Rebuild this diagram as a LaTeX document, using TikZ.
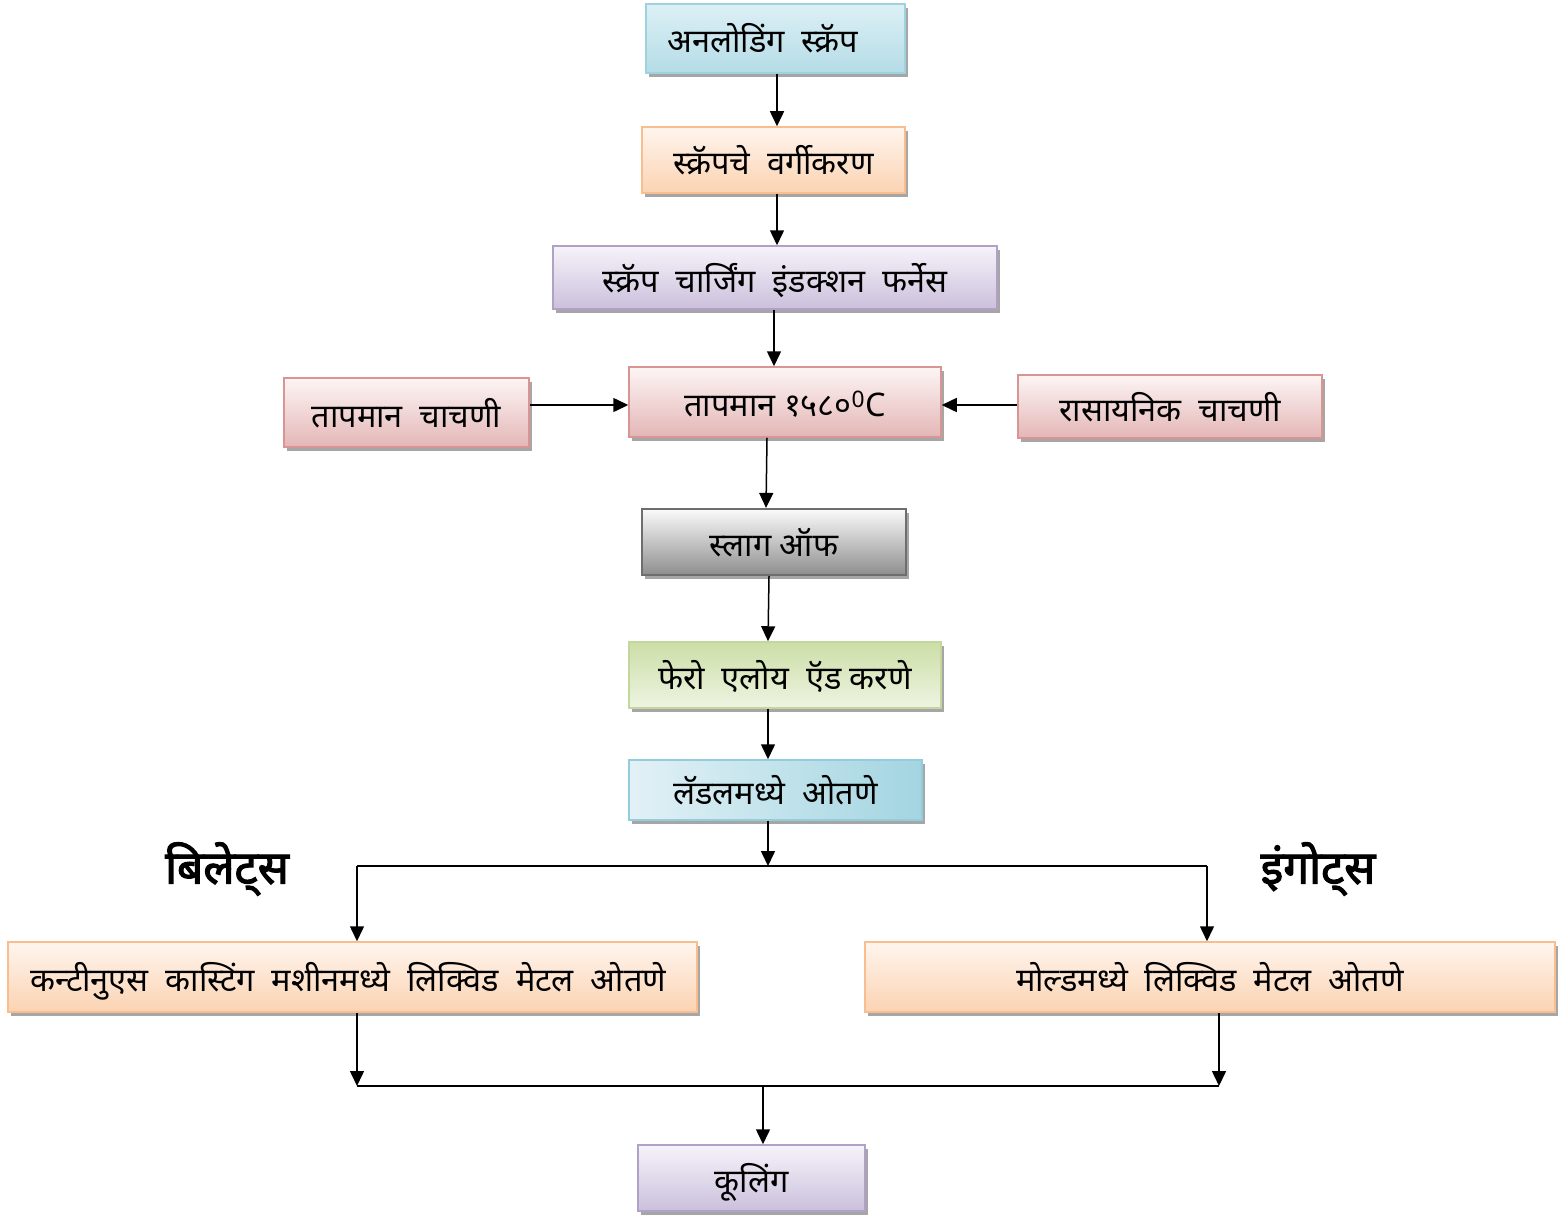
\documentclass[tikz,border=0pt]{standalone}
\usepackage{fontspec}
\setmainfont[Script=Devanagari]{Noto Sans}
\newfontfamily\boldeva[Script=Devanagari,FakeBold=2.5]{Noto Sans}
\usetikzlibrary{arrows.meta,shadows}
\definecolor{bluB}{HTML}{9FD2DF}
\definecolor{bluT}{HTML}{DCF0F5}
\definecolor{bluD}{HTML}{B5DCE7}
\definecolor{orB}{HTML}{F9BE8F}
\definecolor{orT}{HTML}{FFF5EE}
\definecolor{orD}{HTML}{FBD3B2}
\definecolor{puB}{HTML}{B2A1C7}
\definecolor{puT}{HTML}{F6F3FA}
\definecolor{puD}{HTML}{CBC0DC}
\definecolor{piB}{HTML}{D99594}
\definecolor{piT}{HTML}{FDF5F5}
\definecolor{piD}{HTML}{E4B6B6}
\definecolor{grB}{HTML}{6E6E6E}
\definecolor{grT}{HTML}{FAFAFA}
\definecolor{grD}{HTML}{8E8E8E}
\definecolor{gnB}{HTML}{C3D69B}
\definecolor{gnT}{HTML}{CCDEA6}
\definecolor{gnD}{HTML}{EEF4E2}
\definecolor{lbB}{HTML}{93CDDD}
\definecolor{lbL}{HTML}{E2F1F6}
\definecolor{lbR}{HTML}{A3D5E1}
\definecolor{shadowgray}{HTML}{A6A6A6}
\begin{document}
\begin{tikzpicture}[x=1pt,y=-1pt,
  box/.style={draw, line width=1.5pt, inner sep=0pt, text height=34pt, text depth=5pt,
    font=\fontsize{32.5}{38}\selectfont,
    drop shadow={shadow xshift=3pt,shadow yshift=-4pt,fill=shadowgray,opacity=1}},
  arr/.style={-{Triangle[length=15pt,width=14pt]}, line width=1.5pt},
  ln/.style={line width=1.5pt},
  lbl/.style={font=\fontsize{46}{52}\selectfont\boldeva, inner sep=0pt}]
\useasboundingbox (0,0) rectangle (1563,1220);

\node[box, draw=bluB, top color=bluT, bottom color=bluD, minimum width=259pt, minimum height=69pt] (b1) at (775.5,38.5) {अनलोडिंग \ स्क्रॅप\hspace*{26pt}};
\node[box, draw=orB, top color=orT, bottom color=orD, minimum width=263pt, minimum height=66pt] (b2) at (773.5,160) {स्क्रॅपचे \ वर्गीकरण};
\node[box, draw=puB, top color=puT, bottom color=puD, minimum width=444pt, minimum height=63pt] (b3) at (775,277.5) {स्क्रॅप \ चार्जिंग \ इंडक्शन \ फर्नेस};
\node[box, draw=piB, top color=piT, bottom color=piD, minimum width=312pt, minimum height=70pt] (b4) at (785,402) {तापमान १५८०\textsuperscript{0}C};
\node[box, draw=piB, top color=piT, bottom color=piD, minimum width=245pt, minimum height=69pt] (bL) at (406.5,412.5) {तापमान \ चाचणी};
\node[box, draw=piB, top color=piT, bottom color=piD, minimum width=304pt, minimum height=63pt] (bR) at (1170,406.5) {रासायनिक \ चाचणी};
\node[box, draw=grB, line width=2.2pt, top color=grT, bottom color=grD, minimum width=264pt, minimum height=66pt] (b7) at (774,542) {स्लाग ऑफ};
\node[box, draw=gnB, top color=gnT, bottom color=gnD, minimum width=312pt, minimum height=66pt] (b8) at (785,675) {फेरो \ एलोय \ ऍड करणे};
\node[box, draw=lbB, left color=lbL, right color=lbR, minimum width=293pt, minimum height=60pt] (b9) at (775.5,790) {लॅडलमध्ये \ ओतणे};
\node[box, draw=orB, top color=orT, bottom color=orD, minimum width=689pt, minimum height=70pt] (b12) at (352.5,977) {कन्टीनुएस \ कास्टिंग \ मशीनमध्ये \ लिक्विड \ मेटल \ ओतणे\hspace*{8pt}};
\node[box, draw=orB, top color=orT, bottom color=orD, minimum width=690pt, minimum height=70pt] (b13) at (1210,977) {मोल्डमध्ये \ लिक्विड \ मेटल \ ओतणे};
\node[box, draw=puB, top color=puT, bottom color=puD, minimum width=227pt, minimum height=66pt] (b14) at (751.5,1178) {कूलिंग};

\node[lbl] (lb1) at (227,869) {बिलेट्स};
\node[lbl] (lb2) at (1318,869) {इंगोट्स};

\coordinate (j) at (768,866);
\coordinate (jl) at (357,866);
\coordinate (jr) at (1207,866);
\coordinate (kl) at (357,1086);
\coordinate (kr) at (1219,1086);
\coordinate (km) at (763,1086);
\coordinate (cl) at ([yshift=-3pt]b4.west);
\coordinate (cr) at ([yshift=-3pt]b4.east);

\draw[arr] ([xshift=1.5pt]b1.south) -- ([xshift=1.5pt]b1.south |- b2.north);
\draw[arr] ([xshift=3.5pt]b2.south) -- ([xshift=3.5pt]b2.south |- b3.north);
\draw[arr] ([xshift=-1pt]b3.south) -- ([xshift=-1pt]b3.south |- b4.north);
\draw[arr] ([xshift=-18pt]b4.south) -- ([xshift=-8pt]b7.north);
\draw[arr] ([xshift=-5pt]b7.south) -- ([xshift=-17pt]b8.north);
\draw[arr] ([xshift=-17pt]b8.south) -- ([xshift=-7.5pt]b9.north);
\draw[arr] (bL.east |- cl) -- (cl);
\draw[arr] (bR.west |- cr) -- (cr);
\draw[arr] ([xshift=-7.5pt]b9.south) -- (j);
\draw[ln] (jl) -- (jr);
\draw[arr] (jl) -- (jl |- b12.north);
\draw[arr] (jr) -- (jr |- b13.north);
\draw[arr] (kl |- b12.south) -- (kl);
\draw[arr] (kr |- b13.south) -- (kr);
\draw[ln] (kl) -- (kr);
\draw[arr] (km) -- (km |- b14.north);
\end{tikzpicture}
\end{document}
